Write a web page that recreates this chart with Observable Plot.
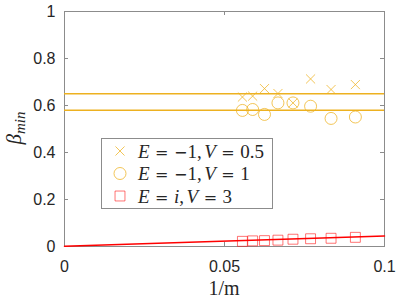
<!DOCTYPE html>
<html><head><meta charset="utf-8">
<script src="https://cdn.jsdelivr.net/npm/d3@7"></script>
<script src="https://cdn.jsdelivr.net/npm/@observablehq/plot@0.6"></script>
<style>body{margin:0;background:#fff} svg{display:block}</style>
</head><body><div id="chart"></div>
<script>
// data
const invM = [0.0556, 0.0588, 0.0625, 0.0667, 0.0714, 0.0769, 0.0833, 0.0909];
const crossY = [0.636, 0.640, 0.672, 0.651, 0.611, 0.713, 0.668, 0.689];
const circleY = [0.579, 0.583, 0.562, 0.611, 0.611, 0.597, 0.545, 0.551];
const squareY = [0.022, 0.024, 0.025, 0.027, 0.031, 0.033, 0.035, 0.039];
const hLines = [0.65, 0.58];
const fitX = [0, 0.1];
const fitY = [0.001, 0.045];
const xTicks = [0, 0.05, 0.1];
const xTickLabels = ["0", "0.05", "0.1"];
const yTicks = [0, 0.2, 0.4, 0.6, 0.8, 1];
const yTickLabels = ["0", "0.2", "0.4", "0.6", "0.8", "1"];
const seriesLabels = ["E = \u22121,V = 0.5", "E = \u22121,V = 1", "E = i,V = 3"];

const ORANGE = "#EDB120", RED = "#FF0000", AX = "#8c8c8c";
const crosses = invM.map((x, i) => ({x, y: crossY[i]}));
const circles = invM.map((x, i) => ({x, y: circleY[i]}));
const squares = invM.map((x, i) => ({x, y: squareY[i]}));
const fit = fitX.map((x, i) => ({x, y: fitY[i]}));

const W = 399, H = 305, mL = 64, mR = 15, mT = 11, mB = 59;
const pw = W - mL - mR, ph = H - mT - mB;

const plot = Plot.plot({
  width: W, height: H,
  marginLeft: mL, marginRight: mR, marginTop: mT, marginBottom: mB,
  x: {domain: [0, 0.1]},
  y: {domain: [0, 1]},
  style: {fontFamily: "Liberation Sans, Arial, sans-serif", background: "#fff"},
  marks: [
    Plot.frame({stroke: AX}),
    Plot.tickY(yTicks, {y: d => d, stroke: AX, insetRight: pw - 4}),
    Plot.tickY(yTicks, {y: d => d, stroke: AX, insetLeft: pw - 4}),
    Plot.tickX(xTicks, {x: d => d, stroke: AX, insetTop: ph - 4}),
    Plot.tickX(xTicks, {x: d => d, stroke: AX, insetBottom: ph - 4}),
    Plot.axisY({ticks: yTicks, tickSize: 0, tickPadding: 9, fontSize: 16, color: "#262626",
      tickFormat: (d, i) => yTickLabels[i], label: null}),
    Plot.axisX({ticks: xTicks, tickSize: 0, tickPadding: 14, fontSize: 16, color: "#262626",
      tickFormat: (d, i) => xTickLabels[i], label: null}),
    Plot.ruleY(hLines, {y: d => d, stroke: ORANGE, strokeWidth: 1.5}),
    Plot.line(fit, {x: "x", y: "y", stroke: RED, strokeWidth: 1.5}),
    Plot.dot(crosses, {x: "x", y: "y", symbol: "times", r: 4.2, stroke: ORANGE, strokeOpacity: 0.75, strokeWidth: 1}),
    Plot.dot(circles, {x: "x", y: "y", symbol: "circle", r: 6, stroke: ORANGE, strokeOpacity: 0.75, strokeWidth: 1}),
    Plot.dot(squares, {x: "x", y: "y", symbol: "square", r: 5.6, stroke: RED, strokeOpacity: 0.55, strokeWidth: 1})
  ]
});
document.getElementById("chart").appendChild(plot);

const svg = d3.select(plot);
const serif = "Liberation Serif, Times New Roman, serif";
// y label
const yl = svg.append("text").attr("transform", "translate(21,128) rotate(-90)")
  .attr("text-anchor", "middle").attr("font-family", serif).attr("font-size", 21).attr("fill", "#262626");
yl.append("tspan").attr("font-style", "italic").text("\u03B2");
yl.append("tspan").attr("font-style", "italic").attr("font-size", 15).attr("dy", 4).text("min");
// x label
svg.append("text").attr("x", mL + pw / 2).attr("y", 295).attr("text-anchor", "middle")
  .attr("font-family", serif).attr("font-size", 20).attr("fill", "#262626").text("1/m");

// math-like text: italic letters, wide relation symbols with spacing
function addMath(t, str) {
  let pending = 0;
  for (const ch of str.replace(/ /g, "")) {
    const sp = t.append("tspan");
    let dx = pending; pending = 0;
    if (ch === "=") { dx += 5.5; pending = 5.5; sp.attr("font-family", "DejaVu Sans").attr("font-size", 16); }
    else if (ch === "\u2212") sp.attr("font-family", "DejaVu Sans").attr("font-size", 16);
    else if (/[A-Za-z]/.test(ch)) sp.attr("font-style", "italic");
    if (ch === ",") pending = 2.5;
    if (dx) sp.attr("dx", dx);
    sp.text(ch);
  }
}

// legend
const lg = svg.append("g");
lg.append("rect").attr("x", 101.5).attr("y", 138.5).attr("width", 171).attr("height", 70)
  .attr("fill", "#fff").attr("stroke", AX);
const rows = [151, 173.5, 196];
const syms = [[d3.symbolTimes, 4.2, ORANGE, 0.75], [d3.symbolCircle, 6, ORANGE, 0.75], [d3.symbolSquare, 5.6, RED, 0.55]];
rows.forEach((yy, i) => {
  const [s, r, c, o] = syms[i];
  lg.append("path").attr("transform", `translate(120,${yy})`)
    .attr("d", d3.symbol(s, Math.PI * r * r)()).attr("fill", "none").attr("stroke", c).attr("stroke-opacity", o);
  const t = lg.append("text").attr("x", 138).attr("y", yy + 6.5).attr("font-family", serif)
    .attr("text-anchor", "start").attr("font-size", 19).attr("fill", "#262626");
  addMath(t, seriesLabels[i]);
});
</script>
</body></html>
